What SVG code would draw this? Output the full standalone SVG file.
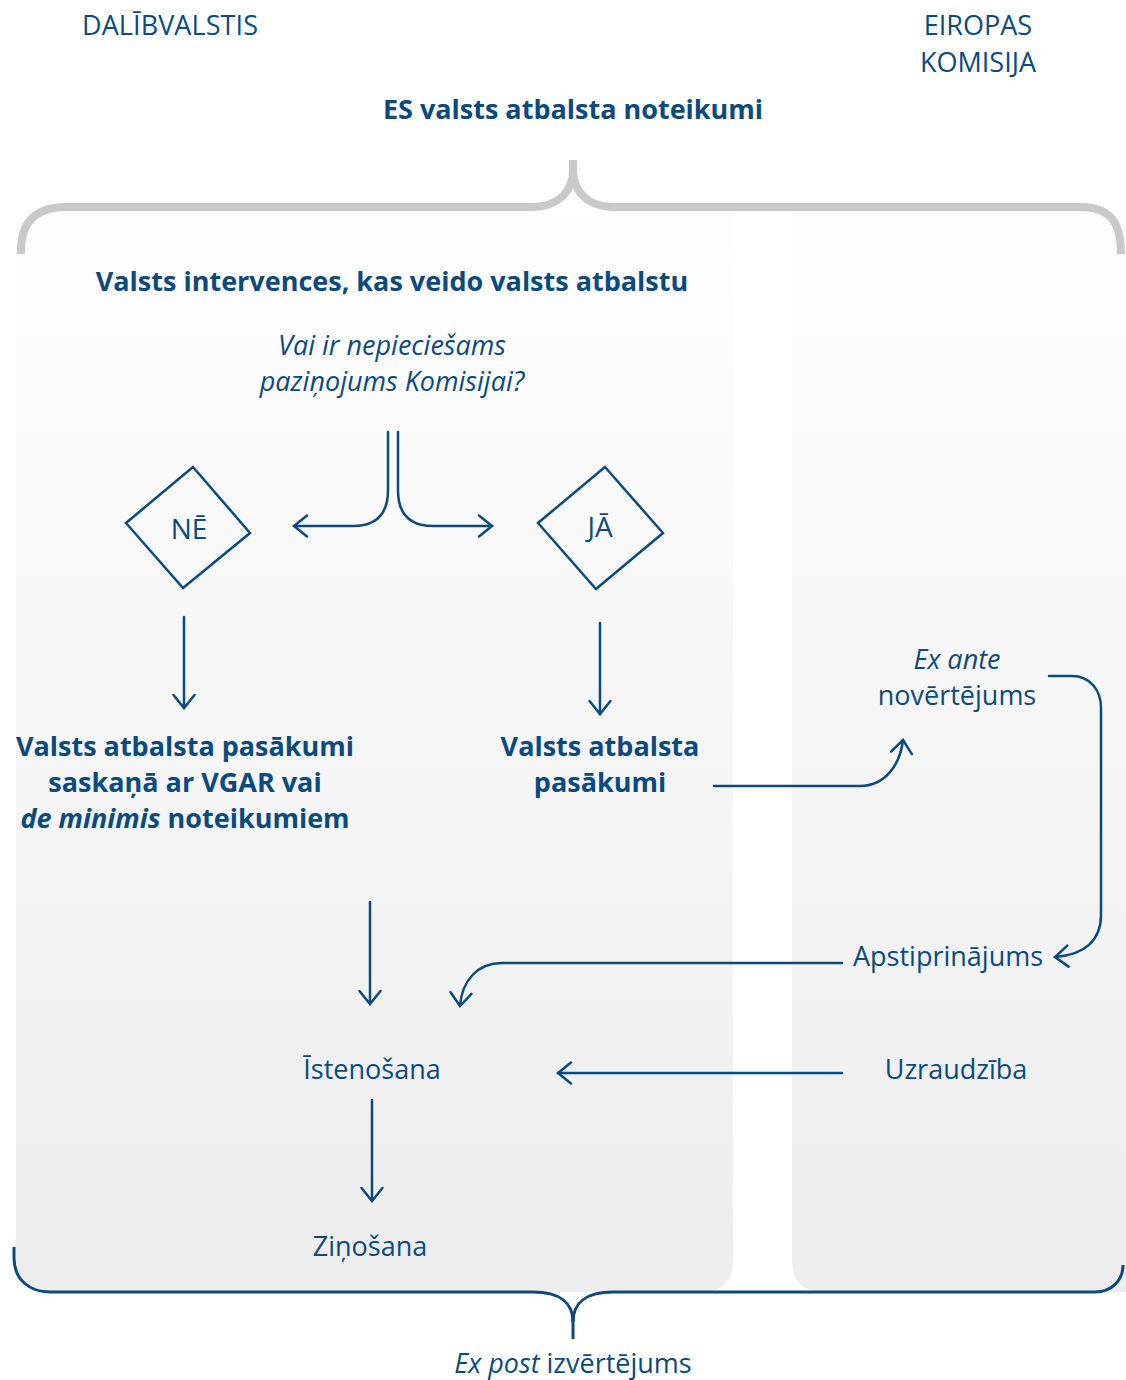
<svg xmlns="http://www.w3.org/2000/svg" width="1126" height="1380" viewBox="0 0 1126 1380">
<style>
.t{font-family:"Open Sans","Noto Sans",sans-serif;fill:#0b4a7e;font-size:27px}
.b{font-weight:bold}
.i{font-style:italic}
.m{text-anchor:middle}
.ln{fill:none;stroke:#0b4a7e;stroke-width:2.5;stroke-linecap:round}
.dm{fill:none;stroke:#0b4a7e;stroke-width:2.5;stroke-linejoin:miter}
</style>
<defs>
<linearGradient id="bg" x1="0" y1="0" x2="0" y2="1">
<stop offset="0" stop-color="#fefefe"/>
<stop offset="1" stop-color="#ededed"/>
</linearGradient>
<marker id="ah" markerUnits="userSpaceOnUse" viewBox="-16 -14 20 28" markerWidth="20" markerHeight="28" refX="0" refY="0" orient="auto" overflow="visible">
<path d="M -13 -10.5 L 0 0 L -13 10.5" fill="none" stroke="#0b4a7e" stroke-width="2.5" stroke-linecap="round" stroke-linejoin="miter"/>
</marker>
</defs>
<rect width="1126" height="1380" fill="#ffffff"/>
<g id="panels">
<path d="M 16 215 L 733 215 L 733 1260 Q 733 1292 701 1292 L 48 1292 Q 16 1292 16 1260 Z" fill="url(#bg)"/>
<path d="M 792 215 L 1126 215 L 1126 1292 L 824 1292 Q 792 1292 792 1260 Z" fill="url(#bg)"/>
</g>
<g id="top-brace">
<path d="M 21 254 L 21 250 C 21 222 36 207 66 207 L 531 207 C 560 207 573 190 573 170 C 573 190 586 207 615 207 L 1080 207 C 1110 207 1121 222 1121 254" fill="none" stroke="#c9c9cb" stroke-width="8"/>
<path d="M 573 160 L 573 175" stroke="#c9c9cb" stroke-width="8"/>
</g>
<g id="bottom-brace">
<path d="M 14 1247 L 14 1258 C 14 1280 30 1292 50 1292 L 533 1292 C 560 1292 573 1303 573 1322 C 573 1303 586 1292 613 1292 L 1095 1292 C 1112 1292 1123 1280 1123 1265" fill="none" stroke="#0b4a7e" stroke-width="3"/>
<path d="M 573 1318 L 573 1339" stroke="#0b4a7e" stroke-width="3"/>
</g>
<g id="headers">
<text class="t" x="82" y="35" textLength="176">DALĪBVALSTIS</text>
<text class="t m" x="978" y="35">EIROPAS</text>
<text class="t m" x="978" y="72">KOMISIJA</text>
</g>
<g id="title"><text class="t b m" x="573" y="119">ES valsts atbalsta noteikumi</text></g>
<g id="interventions"><text class="t b m" x="392" y="291">Valsts intervences, kas veido valsts atbalstu</text></g>
<g id="question">
<text class="t i m" x="392" y="355">Vai ir nepieciešams</text>
<text class="t i m" x="392" y="391">paziņojums Komisijai?</text>
</g>
<g id="ne">
<polygon class="dm" points="193,467 250,533 183,588 126,523"/>
<text class="t m" x="189" y="539" style="font-size:28px">NĒ</text>
</g>
<g id="ja">
<polygon class="dm" points="605,467 663,533 596,589 538,523"/>
<text class="t m" x="600" y="537" style="font-size:28px">JĀ</text>
</g>
<g id="vgar">
<text class="t b m" x="185" y="756">Valsts atbalsta pasākumi</text>
<text class="t b m" x="185" y="792">saskaņā ar VGAR vai</text>
<text class="t b m" x="185" y="828"><tspan class="i">de minimis</tspan> noteikumiem</text>
</g>
<g id="measures">
<text class="t b m" x="600" y="756">Valsts atbalsta</text>
<text class="t b m" x="600" y="792">pasākumi</text>
</g>
<g id="exante">
<text class="t i m" x="957" y="669">Ex ante</text>
<text class="t m" x="957" y="705">novērtējums</text>
</g>
<g id="approval"><text class="t" x="853" y="966">Apstiprinājums</text></g>
<g id="monitoring"><text class="t m" x="956" y="1079">Uzraudzība</text></g>
<g id="implementation"><text class="t m" x="372" y="1079">Īstenošana</text></g>
<g id="reporting"><text class="t m" x="370" y="1256">Ziņošana</text></g>
<g id="expost"><text class="t m" x="573" y="1373"><tspan class="i">Ex post</tspan> izvērtējums</text></g>
<g id="connectors">
<path class="ln" d="M 388 432 L 388 490 C 388 515 375 526 353 526 L 294 526" marker-end="url(#ah)"/>
<path class="ln" d="M 398 432 L 398 490 C 398 515 411 526 433 526 L 492 526" marker-end="url(#ah)"/>
<path class="ln" d="M 184 617 L 184 708" marker-end="url(#ah)"/>
<path class="ln" d="M 600 623 L 600 714" marker-end="url(#ah)"/>
<path class="ln" d="M 714 786 L 860 786 C 885 786 900 765 903 740" marker-end="url(#ah)"/>
<path class="ln" d="M 1049 676 L 1072 676 C 1090 676 1101 690 1101 708 L 1101 915 C 1101 940 1085 955 1055 957" marker-end="url(#ah)"/>
<path class="ln" d="M 842 963 L 502 963 C 478 963 462 980 460 1006" marker-end="url(#ah)"/>
<path class="ln" d="M 842 1073 L 558 1073" marker-end="url(#ah)"/>
<path class="ln" d="M 370 902 L 370 1004" marker-end="url(#ah)"/>
<path class="ln" d="M 372 1100 L 372 1201" marker-end="url(#ah)"/>
</g>
</svg>
